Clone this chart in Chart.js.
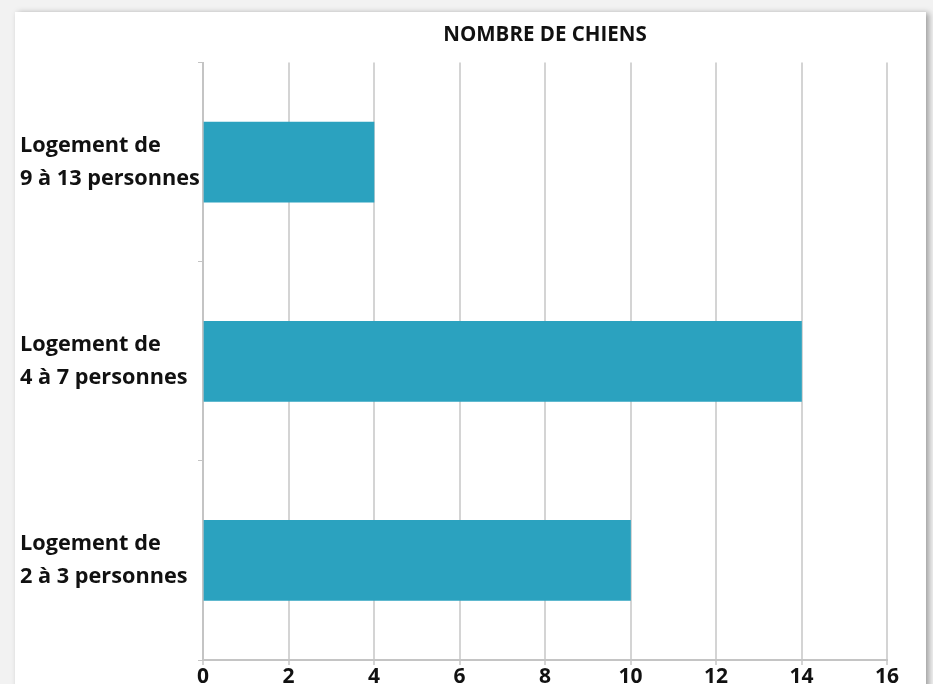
<!DOCTYPE html>
<html>
<head>
<meta charset="utf-8">
<script src="https://cdn.jsdelivr.net/npm/chart.js@4.4.1/dist/chart.umd.min.js"></script>
<style>
  html, body { margin: 0; padding: 0; background: #f2f2f2; overflow: hidden; }
  #card {
    position: absolute; left: 15px; top: 12px; width: 911px; height: 700px;
    background: #fff; box-shadow: 3px 1px 6px rgba(0,0,0,0.35);
  }
  #myChart { position: absolute; left: 0; top: 0; }
</style>
</head>
<body>
<div id="card"></div>
<canvas id="myChart" width="933" height="684"></canvas>
<script>
// data
var categories = [
    ['Logement de', '9 à 13 personnes'],
    ['Logement de', '4 à 7 personnes'],
    ['Logement de', '2 à 3 personnes']
];
var dogCounts = [4, 14, 10];
var xTicks = [0, 2, 4, 6, 8, 10, 12, 14, 16];
var chartTitle = 'NOMBRE DE CHIENS';

const ctx = document.getElementById('myChart').getContext('2d');
var myChart = new Chart(ctx, {
    type: 'bar',
    data: {
        labels: categories,
        datasets: [{
            label: chartTitle,
            data: dogCounts,
            backgroundColor: '#2ba2bf',
            borderWidth: 0,
            barThickness: 80
        }]
    },
    options: {
        indexAxis: 'y',
        responsive: false,
        animation: false,
        layout: { padding: { left: 20, right: 46, top: 0, bottom: 0 } },
        plugins: {
            legend: { display: false },
            tooltip: { enabled: false },
            title: {
                display: true,
                text: chartTitle,
                fullSize: false,
                color: '#111',
                font: { family: 'Open Sans', size: 20.5, weight: 'bold' },
                padding: { top: 23, bottom: 15 }
            }
        },
        scales: {
            x: {
                min: xTicks[0],
                max: xTicks[xTicks.length - 1],
                afterBuildTicks: function (axis) {
                    axis.ticks = xTicks.map(function (v) { return { value: v }; });
                },
                afterFit: function (axis) { axis.height = 24; },
                grid: { color: '#d4d4d4', lineWidth: 2, tickLength: 5 },
                border: { color: '#c4c4c4', width: 2 },
                ticks: {
                    padding: 2,
                    color: '#111',
                    font: { family: 'Open Sans', size: 21, weight: 'bold', lineHeight: 1 }
                }
            },
            y: {
                afterFit: function (axis) {
                    axis.width = 183;
                    axis.paddingTop = 0;
                    axis.paddingBottom = 0;
                },
                grid: { drawOnChartArea: false, color: '#c4c4c4', tickLength: 5 },
                border: { color: '#c4c4c4', width: 2 },
                ticks: {
                    crossAlign: 'far',
                    color: '#111',
                    font: { family: 'Open Sans', size: 21.7, weight: 'bold', lineHeight: 1.55 }
                }
            }
        }
    }
});
</script>
</body>
</html>
